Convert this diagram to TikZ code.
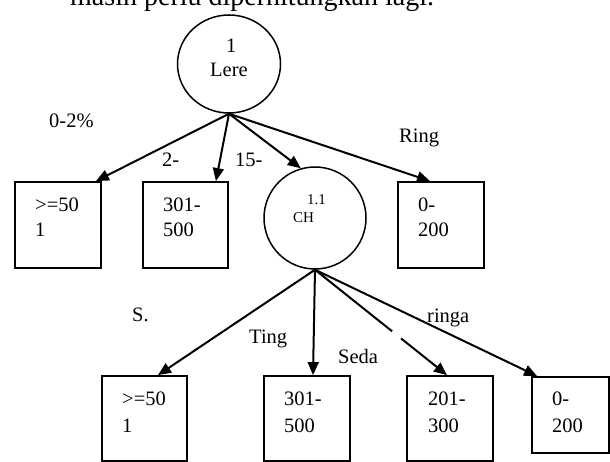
\documentclass[tikz,border=0pt]{standalone}
\usepackage{fontspec}
\setmainfont{Liberation Serif}
\usetikzlibrary{shapes.geometric,arrows.meta,calc}

\tikzset{
  decision/.style={ellipse, draw, line width=1.5pt, inner sep=0pt},
  leaf/.style={rectangle, draw, line width=1.8pt, inner sep=0pt},
  txt/.style={anchor=base west, inner sep=0pt, font=\fontsize{20.5}{24}\selectfont},
  smalltxt/.style={anchor=base west, inner sep=0pt, font=\fontsize{15}{18}\selectfont},
  branch/.style={line width=2pt, -{Triangle[length=13pt,width=11pt]}},
}

\begin{document}
\begin{tikzpicture}[x=1pt, y=-1pt]
  \useasboundingbox (0,0) rectangle (610,462);

  % running text above the tree
  \node[anchor=base west, inner sep=0pt, font=\fontsize{28}{32}\selectfont] (para) at (70,6) {masih perlu diperhitungkan lagi.};

  % root decision
  \node[decision, minimum width=103pt, minimum height=98pt] (c1) at (229,64) {};
  \node[txt] (c1a) at (226,53) {1};
  \node[txt] (c1b) at (210,77) {Lere};

  % first level
  \node[leaf, minimum width=86pt, minimum height=86pt] (b1) at (58,225) {};
  \node[txt] (b1a) at (35,212) {>=50};
  \node[txt] (b1b) at (35,237) {1};

  \node[leaf, minimum width=85pt, minimum height=86pt] (b2) at (185.5,225) {};
  \node[txt] (b2a) at (163,212) {301-};
  \node[txt] (b2b) at (163,237) {500};

  \node[decision, minimum width=102pt, minimum height=102pt] (c2) at (315,218) {};
  \node[smalltxt] (c2a) at (307,205) {1.1};
  \node[smalltxt] (c2b) at (293,223) {CH};

  \node[leaf, minimum width=86pt, minimum height=86pt] (b4) at (441,225) {};
  \node[txt] (b4a) at (418,212) {0-};
  \node[txt] (b4b) at (418,237) {200};

  % second level
  \node[leaf, minimum width=85pt, minimum height=85pt] (b5) at (144.5,418.5) {};
  \node[txt] (b5a) at (122,405) {>=50};
  \node[txt] (b5b) at (122,432) {1};

  \node[leaf, minimum width=86pt, minimum height=85pt] (b6) at (307,418.5) {};
  \node[txt] (b6a) at (284,405) {301-};
  \node[txt] (b6b) at (284,432) {500};

  \node[leaf, minimum width=86pt, minimum height=85pt] (b7) at (450,418.5) {};
  \node[txt] (b7a) at (428,405) {201-};
  \node[txt] (b7b) at (428,432) {300};

  \node[leaf, minimum width=77pt, minimum height=76pt] (b8) at (570.5,415) {};
  \node[txt] (b8a) at (552,405) {0-};
  \node[txt] (b8b) at (552,432) {200};

  % branches from the root
  \draw[branch] (c1.south) -- ($(b1.north east)+(-6,0)$);
  \draw[branch] (c1.south) -- ($(b2.north east)+(-13,0)$);
  \draw[branch] (c1.south) -- (c2.106);
  \draw[branch] (c1.south) -- ($(b4.north)+(-11,0)$);

  % branches from node 1.1
  \draw[branch] (c2.south) -- ($(b5.north)+(13.5,0)$);
  \draw[branch] (c2.south) -- ($(b6.north)+(6,0)$);
  \draw[branch] (c2.south) -- ($(b7.north)+(-3,0)$);
  \draw[branch] (c2.south) -- ($(b8.north west)+(6,0)$);
  % small break in the third lower branch
  \draw[white, line width=4pt] ($(c2.south)!0.585!($(b7.north)+(-3,0)$)$) -- ($(c2.south)!0.651!($(b7.north)+(-3,0)$)$);

  % branch labels
  \node[txt] (l1) at (49,128) {0-2\%};
  \node[txt] (l2) at (162,167) {2-};
  \node[txt] (l3) at (235,167) {15-};
  \node[txt] (l4) at (399,143) {Ring};
  \node[txt] (l5) at (132,321) {S.};
  \node[txt] (l6) at (249,343) {Ting};
  \node[txt] (l7) at (338,363) {Seda};
  \node[txt] (l8) at (427,322) {ringa};
\end{tikzpicture}
\end{document}
